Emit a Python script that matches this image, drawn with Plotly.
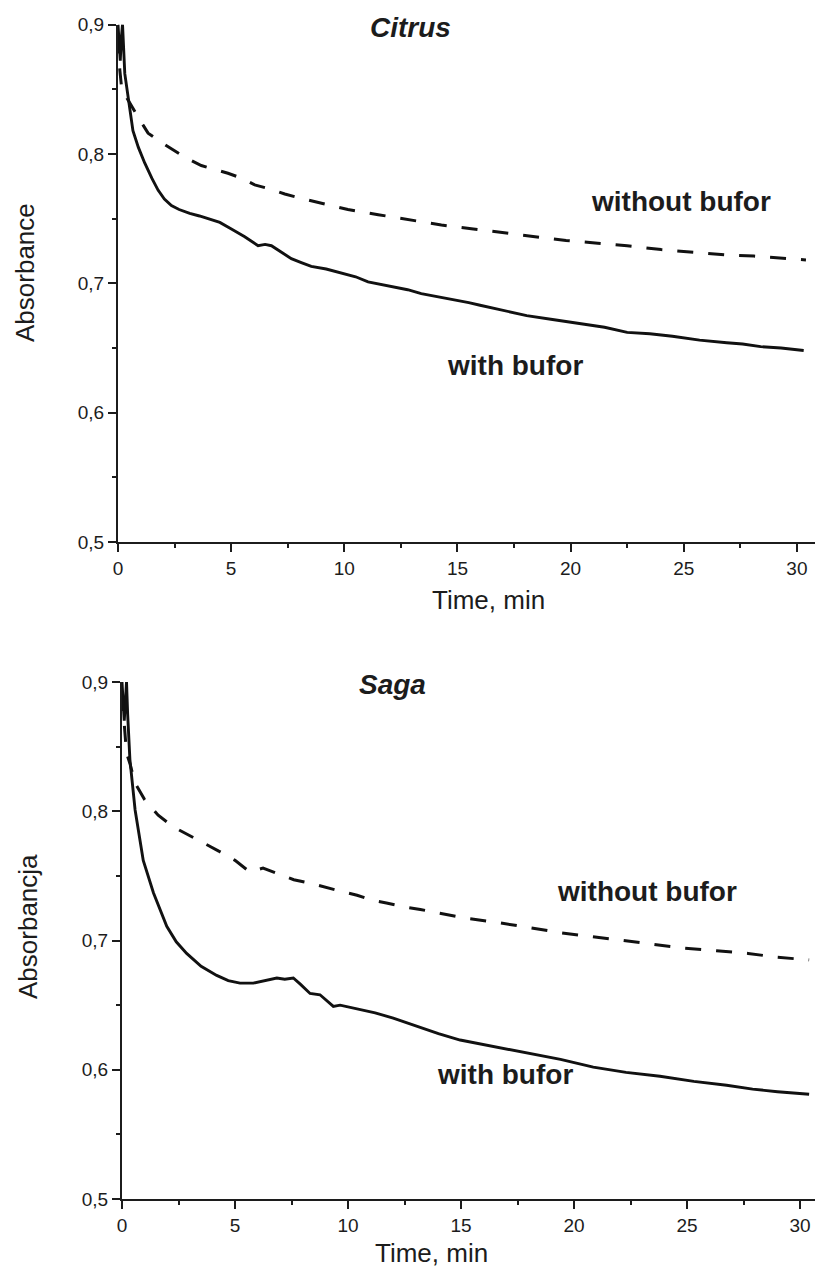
import plotly.graph_objects as go

# ---- data ----
citrus_with_t = [0, 0.05, 0.1, 0.15, 0.2, 0.3, 0.45, 0.66, 0.9, 1.18, 1.5, 1.77, 2.05, 2.36, 2.7, 3.17, 3.6,
                 3.98, 4.5, 5.01, 5.6, 6.19, 6.5, 6.78, 7.2, 7.66, 8.1, 8.54, 9.2, 9.87, 10.5, 11.05, 11.6,
                 12.2, 12.8, 13.4, 14.0, 14.7, 15.5, 16.0, 17.0, 18.06, 19.2, 20.4, 21.5, 22.5, 23.5, 24.5,
                 25.7, 26.9, 27.6, 28.4, 29.3, 30.3]
citrus_with_v = [0.9, 0.885, 0.872, 0.89, 0.9, 0.862, 0.842, 0.818, 0.805, 0.793, 0.781, 0.772, 0.765, 0.760,
                 0.757, 0.754, 0.752, 0.750, 0.747, 0.742, 0.736, 0.729, 0.730, 0.729, 0.724, 0.719, 0.716,
                 0.713, 0.711, 0.708, 0.705, 0.701, 0.699, 0.697, 0.695, 0.692, 0.690, 0.688, 0.685, 0.683,
                 0.679, 0.675, 0.672, 0.669, 0.666, 0.662, 0.661, 0.659, 0.656, 0.654, 0.653, 0.651, 0.650, 0.648]

citrus_without_t = [0, 0.08, 0.16, 0.4, 0.9, 1.33, 1.9, 2.43, 3.0, 3.68, 4.3, 4.86, 5.5, 6.04, 6.7, 7.37, 8.0,
                    8.69, 9.4, 10.16, 11.5, 12.96, 14.29, 15.7, 17.0, 18.4, 19.8, 21.2, 22.5, 24.0, 25.4, 26.8,
                    28.1, 29.7, 30.4]
citrus_without_v = [0.89, 0.865, 0.851, 0.843, 0.828, 0.816, 0.809, 0.803, 0.797, 0.791, 0.788, 0.785, 0.781,
                    0.776, 0.773, 0.769, 0.766, 0.763, 0.760, 0.757, 0.753, 0.749, 0.745, 0.742, 0.739, 0.736,
                    0.733, 0.731, 0.729, 0.726, 0.724, 0.722, 0.721, 0.719, 0.718]

saga_with_t = [0, 0.05, 0.1, 0.15, 0.2, 0.25, 0.35, 0.58, 0.94, 1.39, 1.98, 2.4, 2.86, 3.5, 4.19, 4.7, 5.22,
               5.81, 6.3, 6.85, 7.2, 7.58, 7.9, 8.32, 8.76, 9.35, 9.65, 10.5, 11.2, 12.0, 13.0, 14.0, 14.96,
               16.4, 17.9, 19.4, 20.85, 22.3, 23.8, 25.3, 26.75, 27.9, 29.0, 30.4]
saga_with_v = [0.9, 0.88, 0.87, 0.885, 0.9, 0.875, 0.840, 0.801, 0.762, 0.737, 0.711, 0.699, 0.690, 0.680,
               0.673, 0.669, 0.667, 0.667, 0.669, 0.671, 0.670, 0.671, 0.666, 0.659, 0.658, 0.649, 0.650,
               0.647, 0.644, 0.640, 0.634, 0.628, 0.623, 0.618, 0.613, 0.608, 0.602, 0.598, 0.595, 0.591,
               0.588, 0.585, 0.583, 0.581]

saga_without_t = [0, 0.1, 0.2, 0.35, 0.57, 1.0, 1.6, 2.26, 2.9, 3.7, 4.3, 5.0, 5.66, 6.24, 7.0, 7.6, 8.4, 9.0,
                  9.7, 10.4, 11.1, 11.7, 12.5, 13.2, 13.85, 14.5, 15.3, 16.6, 18.1, 19.4, 20.8, 22.2, 23.5,
                  24.9, 26.3, 27.7, 29.0, 29.7, 30.4]
saga_without_v = [0.89, 0.87, 0.845, 0.837, 0.822, 0.809, 0.797, 0.788, 0.782, 0.775, 0.769, 0.762, 0.753,
                  0.756, 0.751, 0.747, 0.744, 0.741, 0.738, 0.735, 0.731, 0.729, 0.726, 0.724, 0.722, 0.720,
                  0.717, 0.714, 0.710, 0.706, 0.703, 0.700, 0.697, 0.694, 0.692, 0.690, 0.687, 0.686, 0.685]

x_ticks = [0, 5, 10, 15, 20, 25, 30]
y_ticks = [0.5, 0.6, 0.7, 0.8, 0.9]
y_tick_labels = ["0,5", "0,6", "0,7", "0,8", "0,9"]

W, H = 817, 1268
FONT = "Liberation Sans, Arial, sans-serif"
INK = "#1c1c1c"

fig = go.Figure()
fig.add_trace(go.Scatter(x=citrus_with_t, y=citrus_with_v, mode="lines",
                         line=dict(color="#111", width=2.9), xaxis="x", yaxis="y"))
fig.add_trace(go.Scatter(x=citrus_without_t, y=citrus_without_v, mode="lines",
                         line=dict(color="#111", width=3, dash="16px,15px"), xaxis="x", yaxis="y"))
fig.add_trace(go.Scatter(x=saga_with_t, y=saga_with_v, mode="lines",
                         line=dict(color="#111", width=2.9), xaxis="x2", yaxis="y2"))
fig.add_trace(go.Scatter(x=saga_without_t, y=saga_without_v, mode="lines",
                         line=dict(color="#111", width=3, dash="16px,15px"), xaxis="x2", yaxis="y2"))


def px_x(p):
    return p / W


def px_y(p):
    return 1 - p / H


xcommon = dict(tickvals=x_ticks, ticks="outside", ticklen=8, tickwidth=2, tickcolor=INK,
               showline=True, linewidth=2, linecolor=INK, showgrid=False, zeroline=False,
               automargin=False, tickfont=dict(family=FONT, size=19, color=INK),
               minor=dict(dtick=2.5, tick0=0, ticks="outside", ticklen=4, tickwidth=2, tickcolor=INK))
ycommon = dict(tickvals=y_ticks, ticktext=y_tick_labels, range=[0.5, 0.9], ticks="outside", ticklen=8,
               tickwidth=2, tickcolor=INK, showline=True, linewidth=2, linecolor=INK, showgrid=False,
               zeroline=False, automargin=False, tickfont=dict(family=FONT, size=19, color=INK),
               minor=dict(dtick=0.05, tick0=0.5, ticks="outside", ticklen=4, tickwidth=2, tickcolor=INK))

fig.update_layout(
    width=W, height=H, margin=dict(l=0, r=0, t=0, b=0, autoexpand=False),
    paper_bgcolor="white", plot_bgcolor="white", showlegend=False,
    xaxis=dict(domain=[px_x(118), px_x(815)], range=[0, 30.8], anchor="y", **xcommon),
    yaxis=dict(domain=[px_y(542), px_y(24.5)], anchor="x", **ycommon),
    xaxis2=dict(domain=[px_x(122), px_x(815)], range=[0, 30.66], anchor="y2", **xcommon),
    yaxis2=dict(domain=[px_y(1199), px_y(682)], anchor="x2", **ycommon),
)

texts = [
    ("<b><i>Citrus</i></b>", 410, 28, 28, 0),
    ("<b>without bufor</b>", 681, 201, 28, 0),
    ("<b>with bufor</b>", 515, 365, 28, 0),
    ("Time, min", 488, 600, 26, 0),
    ("Absorbance", 25, 273, 26, -90),
    ("<b><i>Saga</i></b>", 392, 684, 28, 0),
    ("<b>without bufor</b>", 647, 891, 28, 0),
    ("<b>with bufor</b>", 505, 1074, 28, 0),
    ("Time, min", 431, 1253, 26, 0),
    ("Absorbancja", 28, 927, 26, -90),
]
for t, x, y, s, ang in texts:
    fig.add_annotation(text=t, x=px_x(x), y=px_y(y), xref="paper", yref="paper", showarrow=False,
                       xanchor="center", yanchor="middle", textangle=ang,
                       font=dict(family=FONT, size=s, color=INK))

fig.write_html("out.html", config={"displayModeBar": False},
               post_script="document.body.style.margin='0px';")
